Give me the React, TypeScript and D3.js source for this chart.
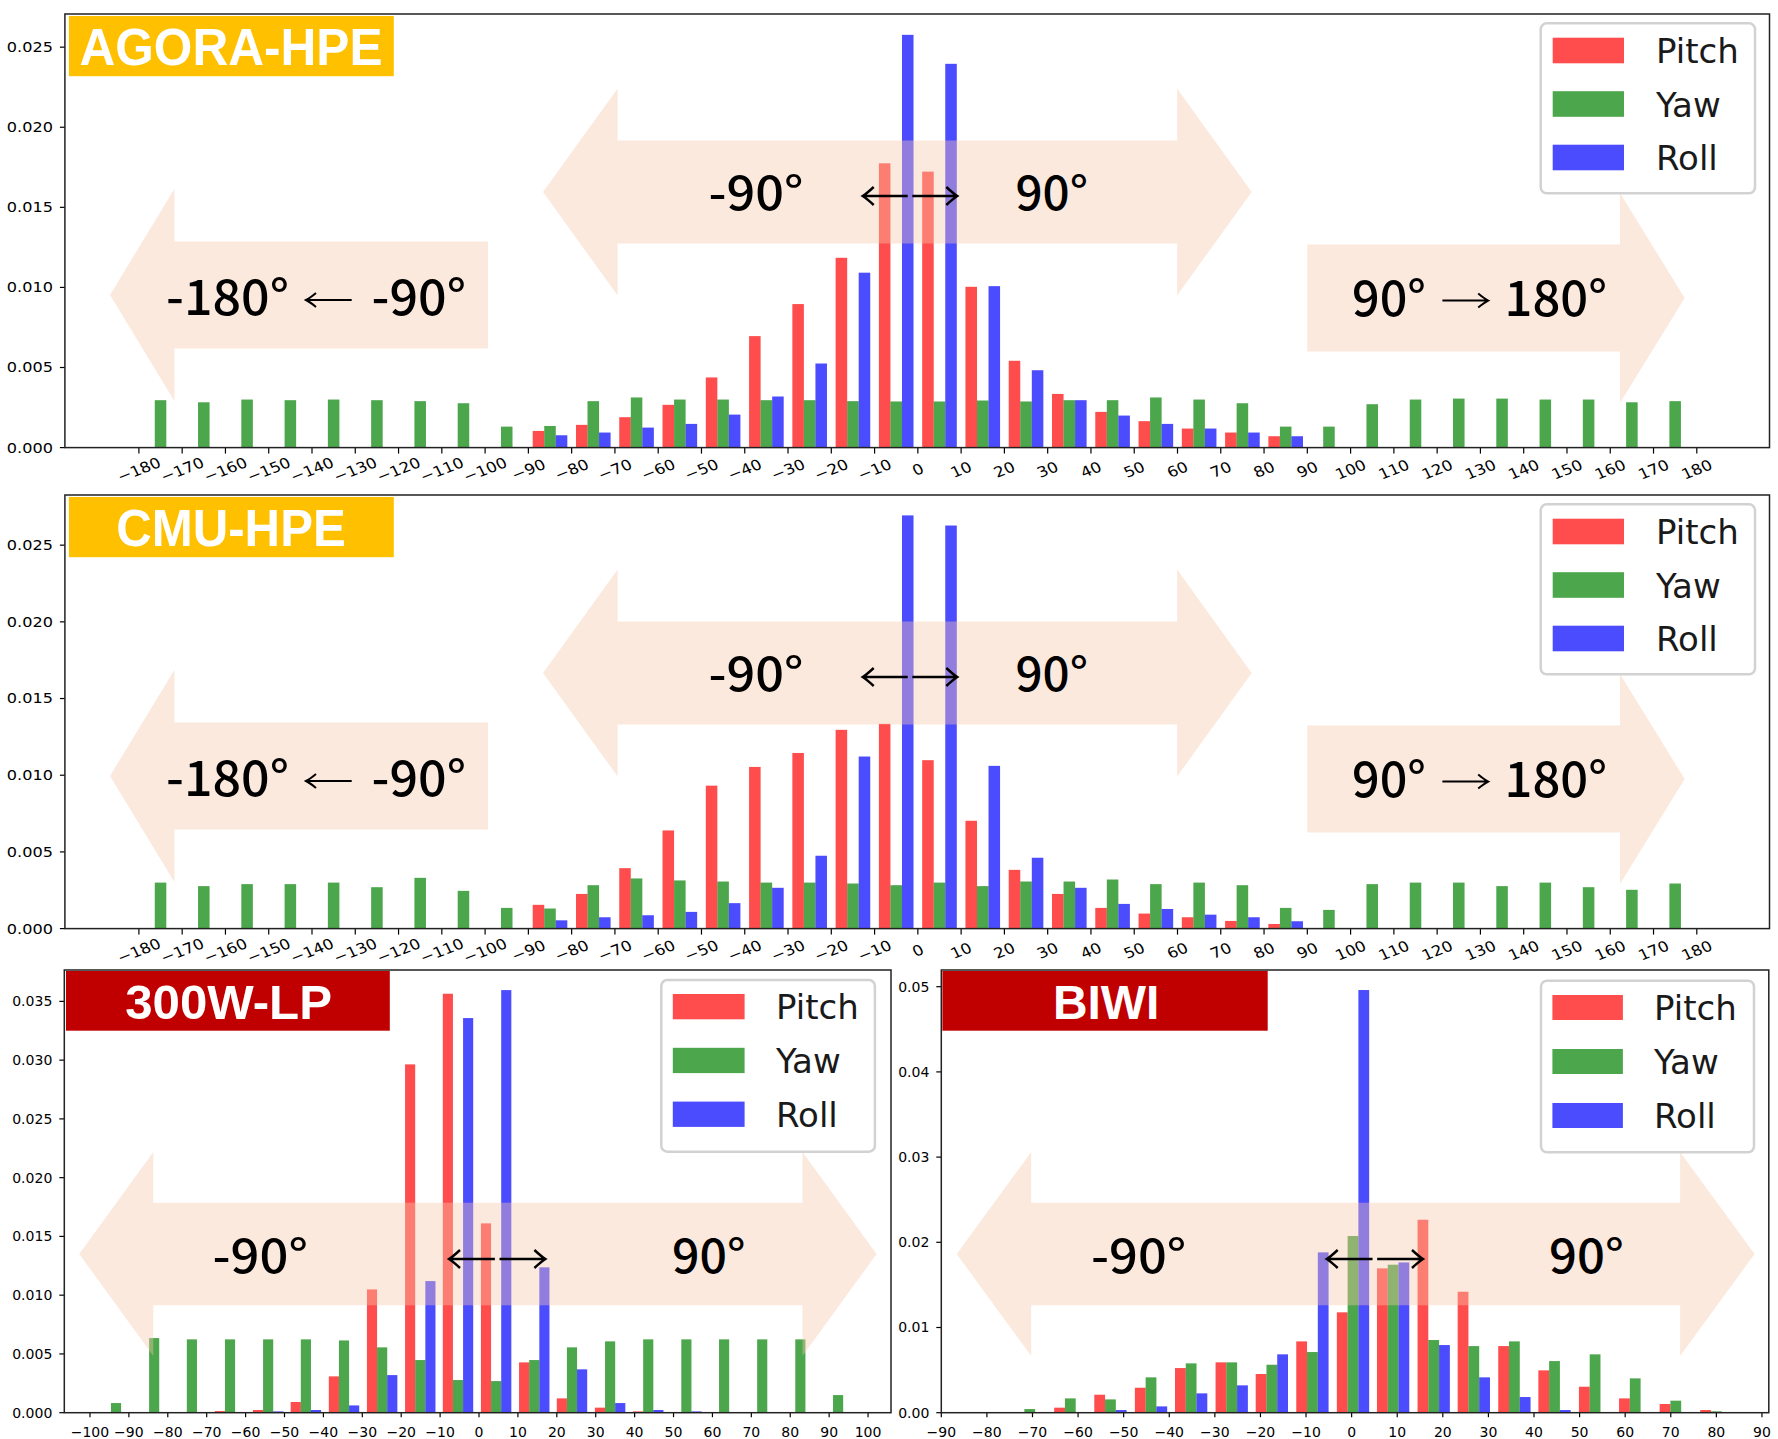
import { useEffect, useRef } from "react";
import * as d3 from "d3";

const W = 1778;
const H = 1439;

// AGORA-HPE and CMU-HPE: 10 degree bins over [-180, 180]
const wideBins = [
  -175, -165, -155, -145, -135, -125, -115, -105, -95, -85, -75, -65, -55, -45, -35, -25, -15, -5,
  5, 15, 25, 35, 45, 55, 65, 75, 85, 95, 105, 115, 125, 135, 145, 155, 165, 175,
];
const wideTicks = [
  -180, -170, -160, -150, -140, -130, -120, -110, -100, -90, -80, -70, -60, -50, -40, -30, -20, -10,
  0, 10, 20, 30, 40, 50, 60, 70, 80, 90, 100, 110, 120, 130, 140, 150, 160, 170, 180,
];

const agoraPitch = [
  0, 0, 0, 0, 0, 0, 0, 0, 0,
  0.00104, 0.00142, 0.0019, 0.00267, 0.00438, 0.00696, 0.00896, 0.01185, 0.01775,
  0.01723, 0.01004, 0.00542, 0.00335, 0.00223, 0.00165, 0.00119, 0.00094, 0.00071,
  0, 0, 0, 0, 0, 0, 0, 0, 0,
];
const agoraYaw = [
  0.00296, 0.00283, 0.003, 0.00296, 0.003, 0.00296, 0.0029, 0.00277, 0.00131,
  0.00135, 0.0029, 0.00313, 0.003, 0.003, 0.00296, 0.00296, 0.0029, 0.00288,
  0.00288, 0.00294, 0.00288, 0.00296, 0.00296, 0.00313, 0.003, 0.00277, 0.00131,
  0.00131, 0.00271, 0.003, 0.00306, 0.00306, 0.003, 0.003, 0.00283, 0.0029,
];
const agoraRoll = [
  0, 0, 0, 0, 0, 0, 0, 0, 0,
  0.00077, 0.00094, 0.00125, 0.00148, 0.00206, 0.00319, 0.00525, 0.01092, 0.02577,
  0.02396, 0.01008, 0.00483, 0.00296, 0.002, 0.00148, 0.00119, 0.00094, 0.00071,
  0, 0, 0, 0, 0, 0, 0, 0, 0,
];

const cmuPitch = [
  0, 0, 0, 0, 0, 0, 0, 0, 0,
  0.00155, 0.00226, 0.00394, 0.0064, 0.00932, 0.01054, 0.01145, 0.01296, 0.01335,
  0.01098, 0.00703, 0.00383, 0.00226, 0.00135, 0.00098, 0.00074, 0.0005, 0.0003,
  0, 0, 0, 0, 0, 0, 0, 0, 0,
];
const cmuYaw = [
  0.003, 0.00277, 0.0029, 0.0029, 0.003, 0.0027, 0.00331, 0.00246, 0.00135,
  0.00131, 0.00283, 0.00327, 0.00314, 0.00307, 0.003, 0.003, 0.00294, 0.00283,
  0.003, 0.00277, 0.00307, 0.00307, 0.0032, 0.0029, 0.003, 0.00283, 0.00135,
  0.00122, 0.0029, 0.003, 0.003, 0.00277, 0.003, 0.0027, 0.00253, 0.00294,
];
const cmuRoll = [
  0, 0, 0, 0, 0, 0, 0, 0, 0,
  0.00054, 0.00074, 0.00087, 0.00109, 0.00166, 0.00266, 0.00475, 0.01122, 0.02694,
  0.02628, 0.01061, 0.00462, 0.00266, 0.00161, 0.00128, 0.00091, 0.00074, 0.00048,
  0, 0, 0, 0, 0, 0, 0, 0, 0,
];

// 300W-LP: 20 bins of ~9.77 degrees
const lpBins = [
  -93.3, -83.5, -73.8, -64.0, -54.2, -44.5, -34.7, -24.9, -15.1, -5.4,
  4.4, 14.2, 23.9, 33.7, 43.5, 53.3, 63.0, 72.8, 82.6, 92.3,
];
const lpPitch = [
  0, 0, 0, 0.00014, 0.00023, 0.00091, 0.00309, 0.01049, 0.02964, 0.03565,
  0.01611, 0.00428, 0.00122, 0.00043, 0.00011, 0, 0, 0, 0, 0,
];
const lpYaw = [
  0.00082, 0.00635, 0.00624, 0.00624, 0.00624, 0.00624, 0.00615, 0.00556, 0.00448, 0.00278,
  0.00269, 0.00448, 0.00556, 0.00607, 0.00624, 0.00624, 0.00624, 0.00624, 0.00624, 0.0015,
];
const lpRoll = [
  0, 0, 0, 0, 0.00011, 0.00023, 0.00062, 0.0032, 0.0112, 0.03358,
  0.03596, 0.01237, 0.00369, 0.00082, 0.00023, 0.00011, 0, 0, 0, 0,
];
const lpTicks = [-100, -90, -80, -70, -60, -50, -40, -30, -20, -10, 0, 10, 20, 30, 40, 50, 60, 70, 80, 90, 100];

// BIWI: 18 bins of ~8.86 degrees
const biwiBins = [
  -70.6, -61.7, -52.9, -44.0, -35.2, -26.3, -17.5, -8.6, 0.3,
  9.1, 18.0, 26.8, 35.7, 44.5, 53.4, 62.2, 71.1, 80.0,
];
const biwiPitch = [
  0, 0.00059, 0.00211, 0.00293, 0.00524, 0.00591, 0.00454, 0.00837, 0.01178,
  0.01694, 0.02265, 0.0142, 0.00782, 0.00497, 0.00305, 0.00168, 0.00102, 0.00031,
];
const biwiYaw = [
  0.00043, 0.00168, 0.00156, 0.00415, 0.00579, 0.00591, 0.00563, 0.00712, 0.02074,
  0.01737, 0.00853, 0.00782, 0.00837, 0.00606, 0.00685, 0.00403, 0.00141, 0.00016,
];
const biwiRoll = [
  0, 0, 0.00031, 0.00074, 0.00227, 0.00321, 0.00685, 0.01882, 0.04961,
  0.01764, 0.00794, 0.00415, 0.00184, 0.00031, 0, 0, 0, 0,
];
const biwiTicks = [-90, -80, -70, -60, -50, -40, -30, -20, -10, 0, 10, 20, 30, 40, 50, 60, 70, 80, 90];

const legendLabels = ["Pitch", "Yaw", "Roll"];
const seriesColors = ["#ff0000", "#008000", "#0000ff"];

const TICK_FONT = "'DejaVu Sans', sans-serif";
const ANNO_FONT = "'Noto Sans CJK SC', 'Noto Sans', sans-serif";
const TITLE_FONT = "'Liberation Sans', Arial, sans-serif";

type Pt = [number, number];

// pasted shape arrows (pixel layout)
function doubleArrow(x0: number, x1: number, ym: number, body: number, head: number, len: number): Pt[] {
  return [
    [x0, ym], [x0 + len, ym - head], [x0 + len, ym - body], [x1 - len, ym - body], [x1 - len, ym - head],
    [x1, ym], [x1 - len, ym + head], [x1 - len, ym + body], [x0 + len, ym + body], [x0 + len, ym + head],
  ];
}
function leftArrow(tip: number, end: number, ym: number, body: number, head: number, len: number): Pt[] {
  return [
    [tip, ym], [tip + len, ym - head], [tip + len, ym - body], [end, ym - body],
    [end, ym + body], [tip + len, ym + body], [tip + len, ym + head],
  ];
}
function rightArrow(start: number, tip: number, ym: number, body: number, head: number, len: number): Pt[] {
  return [
    [tip, ym], [tip - len, ym + head], [tip - len, ym + body], [start, ym + body],
    [start, ym - body], [tip - len, ym - body], [tip - len, ym - head],
  ];
}

interface Anno { text: string; x0: number; x1: number; base: number; size: number }
interface Pointer { x0: number; x1: number; y: number; dir: number }

interface Panel {
  title: string;
  titleFill: string;
  titleBox: [number, number, number, number];
  titleText: { cx: number; base: number; size: number; len: number };
  frame: { left: number; right: number; top: number; bottom: number };
  xDomain: [number, number];
  yMax: number;
  xTicks: number[];
  yTicks: number[];
  yFmt: string;
  wide: boolean;
  bins: number[];
  binWidth: number;
  values: number[][];
  shapes: Pt[][];
  annos: Anno[];
  pointers: Pointer[];
  arrows: { x0: number; x1: number; y: number }[];
  legend: { box: [number, number, number, number]; px0: number; px1: number; top: number; step: number; ph: number; lx: number };
}

function widePanel(
  dy: number, title: string, pitch: number[], yaw: number[], roll: number[], yMax: number,
  textLen: number
): Panel {
  return {
    title,
    titleFill: "#ffc000",
    titleBox: [68.9, 16 + dy, 393.8, 76.2 + dy],
    titleText: { cx: 231, base: 65.1 + dy, size: 51, len: textLen },
    frame: { left: 64.9, right: 1769.5, top: 14 + dy, bottom: 447.6 + dy },
    xDomain: [-197.1, 196.8],
    yMax,
    xTicks: wideTicks,
    yTicks: [0, 0.005, 0.01, 0.015, 0.02, 0.025],
    yFmt: ".3f",
    wide: true,
    bins: wideBins,
    binWidth: 10,
    values: [pitch, yaw, roll],
    shapes: [
      doubleArrow(543, 1251.7, 192 + dy, 51.4, 103.5, 74.6),
      leftArrow(110, 488, 295 + dy, 53.5, 106.3, 64.5),
      rightArrow(1307.3, 1684.7, 298 + dy, 53.5, 105, 64.7),
    ],
    annos: [
      { text: "-180°", x0: 166, x1: 289, base: 315.4 + dy, size: 49 },
      { text: "-90°", x0: 371.5, x1: 466, base: 315.4 + dy, size: 49 },
      { text: "-90°", x0: 708.5, x1: 803.5, base: 210.4 + dy, size: 47 },
      { text: "90°", x0: 1015.5, x1: 1088, base: 210.4 + dy, size: 47 },
      { text: "90°", x0: 1352, x1: 1426, base: 315.6 + dy, size: 49 },
      { text: "180°", x0: 1504.5, x1: 1607, base: 315.6 + dy, size: 49 },
    ],
    pointers: [
      { x0: 306, x1: 351.7, y: 300 + dy, dir: -1 },
      { x0: 1442.4, x1: 1488.2, y: 300.6 + dy, dir: 1 },
    ],
    arrows: [{ x0: 862.7, x1: 957.3, y: 196 + dy }],
    legend: { box: [1540.7, 23.3 + dy, 1755, 193.3 + dy], px0: 1552.7, px1: 1624, top: 37.7 + dy, step: 53.5, ph: 25.6, lx: 1656 },
  };
}

const panels: Panel[] = [
  widePanel(0, "AGORA-HPE", agoraPitch, agoraYaw, agoraRoll, 0.02707, 303),
  widePanel(481, "CMU-HPE", cmuPitch, cmuYaw, cmuRoll, 0.02827, 229.5),
  {
    title: "300W-LP",
    titleFill: "#c00000",
    titleBox: [66, 971, 389.8, 1030.7],
    titleText: { cx: 228.6, base: 1019.3, size: 48, len: 206.8 },
    frame: { left: 64.3, right: 891, top: 970, bottom: 1412.7 },
    xDomain: [-106.6, 105.9],
    yMax: 0.03767,
    xTicks: lpTicks,
    yTicks: [0, 0.005, 0.01, 0.015, 0.02, 0.025, 0.03, 0.035],
    yFmt: ".3f",
    wide: false,
    bins: lpBins,
    binWidth: 9.77,
    values: [lpPitch, lpYaw, lpRoll],
    shapes: [doubleArrow(79.2, 876.6, 1254, 51.2, 102, 74.1)],
    annos: [
      { text: "-90°", x0: 212.5, x1: 308, base: 1272.7, size: 47 },
      { text: "90°", x0: 672, x1: 745.5, base: 1272.7, size: 47 },
    ],
    pointers: [],
    arrows: [{ x0: 449, x1: 545.4, y: 1259 }],
    legend: { box: [661.3, 980, 874.9, 1151.7], px0: 672.8, px1: 744.6, top: 994, step: 53.8, ph: 25.3, lx: 776 },
  },
  {
    title: "BIWI",
    titleFill: "#c00000",
    titleBox: [942.4, 971, 1267.7, 1030.7],
    titleText: { cx: 1106.2, base: 1019.3, size: 48, len: 106.5 },
    frame: { left: 941.3, right: 1768.8, top: 970, bottom: 1412.7 },
    xDomain: [-90, 91.5],
    yMax: 0.05196,
    xTicks: biwiTicks,
    yTicks: [0, 0.01, 0.02, 0.03, 0.04, 0.05],
    yFmt: ".2f",
    wide: false,
    bins: biwiBins,
    binWidth: 8.86,
    values: [biwiPitch, biwiYaw, biwiRoll],
    shapes: [doubleArrow(956.7, 1754.6, 1254, 51.2, 102, 74.5)],
    annos: [
      { text: "-90°", x0: 1091, x1: 1186.3, base: 1272.7, size: 47 },
      { text: "90°", x0: 1549, x1: 1623.8, base: 1272.7, size: 47 },
    ],
    pointers: [],
    arrows: [{ x0: 1326.7, x1: 1423, y: 1259 }],
    legend: { box: [1541, 980.7, 1754, 1152.3], px0: 1552.4, px1: 1622.9, top: 995, step: 54, ph: 25, lx: 1654 },
  },
];

function drawPanel(root: d3.Selection<SVGGElement, unknown, null, undefined>, p: Panel) {
  const { left, right, top, bottom } = p.frame;
  const x = d3.scaleLinear().domain(p.xDomain).range([left, right]);
  const y = d3.scaleLinear().domain([0, p.yMax]).range([bottom, top]);
  const g = root.append("g");

  // grouped bars: pitch | yaw | roll inside 80% of each bin
  const gw = p.binWidth * 0.8;
  const bw = gw / 3;
  p.values.forEach((vals, si) => {
    const rows = p.bins.map((c, i) => ({ c, v: vals[i] })).filter((d) => d.v > 0);
    g.append("g")
      .selectAll("rect")
      .data(rows)
      .join("rect")
      .attr("x", (d) => x(d.c - gw / 2 + si * bw))
      .attr("width", (d) => x(d.c - gw / 2 + (si + 1) * bw) - x(d.c - gw / 2 + si * bw))
      .attr("y", (d) => y(d.v))
      .attr("height", (d) => y(0) - y(d.v))
      .attr("fill", seriesColors[si])
      .attr("fill-opacity", 0.7);
  });

  // translucent range arrows over the bars
  p.shapes.forEach((pts) => {
    g.append("path")
      .attr("d", "M" + pts.map((q) => q.join(",")).join("L") + "Z")
      .attr("fill", "#f8c8ad")
      .attr("fill-opacity", 0.4);
  });

  p.annos.forEach((a) => {
    g.append("text")
      .attr("x", a.x0)
      .attr("y", a.base)
      .attr("font-family", ANNO_FONT)
      .attr("font-weight", 500)
      .attr("font-size", a.size)
      .attr("textLength", a.x1 - a.x0)
      .attr("lengthAdjust", "spacingAndGlyphs")
      .attr("fill", "#000")
      .text(a.text);
  });

  // thin long arrows inside "-180° ← -90°" / "90° → 180°"
  p.pointers.forEach(({ x0, x1, y: py, dir }) => {
    const tip = dir < 0 ? x0 : x1;
    const back = dir < 0 ? 1 : -1;
    g.append("path")
      .attr(
        "d",
        `M${x0},${py} L${x1},${py} M${tip + back * 10},${py - 7} Q${tip + back * 4},${py - 2} ${tip},${py} Q${tip + back * 4},${py + 2} ${tip + back * 10},${py + 7}`
      )
      .attr("fill", "none")
      .attr("stroke", "#000")
      .attr("stroke-width", 2);
  });

  // small <- -> arrows
  p.arrows.forEach(({ x0, x1, y: ay }) => {
    const mid = (x0 + x1) / 2;
    const gap = 2.3;
    const head = (tip: number, dir: number) =>
      `M${tip + dir * 11},${ay - 9} Q${tip + dir * 4},${ay - 2.5} ${tip},${ay} Q${tip + dir * 4},${ay + 2.5} ${tip + dir * 11},${ay + 9}`;
    g.append("path")
      .attr("d", `M${x0},${ay} L${mid - gap},${ay} M${mid + gap},${ay} L${x1},${ay} ${head(x0, 1)} ${head(x1, -1)}`)
      .attr("fill", "none")
      .attr("stroke", "#000")
      .attr("stroke-width", 2.4);
  });

  // title badge
  const [tx0, ty0, tx1, ty1] = p.titleBox;
  g.append("rect").attr("x", tx0).attr("y", ty0).attr("width", tx1 - tx0).attr("height", ty1 - ty0).attr("fill", p.titleFill);
  g.append("text")
    .attr("x", p.titleText.cx)
    .attr("y", p.titleText.base)
    .attr("text-anchor", "middle")
    .attr("font-family", TITLE_FONT)
    .attr("font-weight", "bold")
    .attr("font-size", p.titleText.size)
    .attr("textLength", p.titleText.len)
    .attr("lengthAdjust", "spacingAndGlyphs")
    .attr("fill", "#fff")
    .text(p.title);

  // legend
  const L = p.legend;
  g.append("rect")
    .attr("x", L.box[0])
    .attr("y", L.box[1])
    .attr("width", L.box[2] - L.box[0])
    .attr("height", L.box[3] - L.box[1])
    .attr("rx", 6)
    .attr("fill", "#fff")
    .attr("fill-opacity", 0.85)
    .attr("stroke", "#d2d2d2")
    .attr("stroke-width", 2.5);
  legendLabels.forEach((lab, i) => {
    const ty = L.top + i * L.step;
    g.append("rect")
      .attr("x", L.px0)
      .attr("y", ty)
      .attr("width", L.px1 - L.px0)
      .attr("height", L.ph)
      .attr("fill", seriesColors[i])
      .attr("fill-opacity", 0.7);
    g.append("text")
      .attr("x", L.lx)
      .attr("y", ty + L.ph)
      .attr("font-family", TICK_FONT)
      .attr("font-size", 34)
      .attr("fill", "#1a1a1a")
      .text(lab);
  });

  // axes (the two wide panels are stretched horizontally in the source)
  const fmtY = d3.format(p.yFmt);
  const fmtX = d3.format("d");
  const sx = p.wide ? 1.15 : 1;
  const ax = g.append("g").attr("font-family", TICK_FONT).attr("font-size", 14).attr("fill", "#000");
  p.yTicks.forEach((t) => {
    ax.append("line").attr("x1", left - 5).attr("x2", left).attr("y1", y(t)).attr("y2", y(t)).attr("stroke", "#000").attr("stroke-width", 1.2);
    ax.append("text")
      .attr("transform", `translate(${left - 12},${y(t)}) scale(${sx},1)`)
      .attr("dy", "0.35em")
      .attr("text-anchor", "end")
      .text(fmtY(t));
  });
  p.xTicks.forEach((t) => {
    ax.append("line").attr("x1", x(t)).attr("x2", x(t)).attr("y1", bottom).attr("y2", bottom + (p.wide ? 6 : 4.5)).attr("stroke", "#000").attr("stroke-width", 1.2);
    if (p.wide) {
      ax.append("text")
        .attr("transform", `translate(${x(t)},${bottom + 22}) scale(${sx},1) rotate(-24)`)
        .attr("text-anchor", "middle")
        .attr("dy", "0.35em")
        .attr("font-size", 14.5)
        .text(fmtX(t));
    } else {
      ax.append("text")
        .attr("x", x(t))
        .attr("y", bottom + 24)
        .attr("text-anchor", "middle")
        .text(fmtX(t));
    }
  });

  g.append("rect")
    .attr("x", left)
    .attr("y", top)
    .attr("width", right - left)
    .attr("height", bottom - top)
    .attr("fill", "none")
    .attr("stroke", "#222")
    .attr("stroke-width", 1.5);
}

export default function App() {
  const svgRef = useRef<SVGSVGElement>(null);

  useEffect(() => {
    if (!svgRef.current) return;
    const svg = d3.select(svgRef.current);
    svg.selectAll("*").remove();
    svg.append("rect").attr("width", W).attr("height", H).attr("fill", "#fff");
    const root = svg.append("g");
    panels.forEach((p) => drawPanel(root, p));
  }, []);

  return (
    <div style={{ position: "absolute", left: 0, top: 0, width: W, height: H, background: "#fff" }}>
      <svg ref={svgRef} width={W} height={H} viewBox={`0 0 ${W} ${H}`} style={{ display: "block" }}></svg>
    </div>
  );
}
